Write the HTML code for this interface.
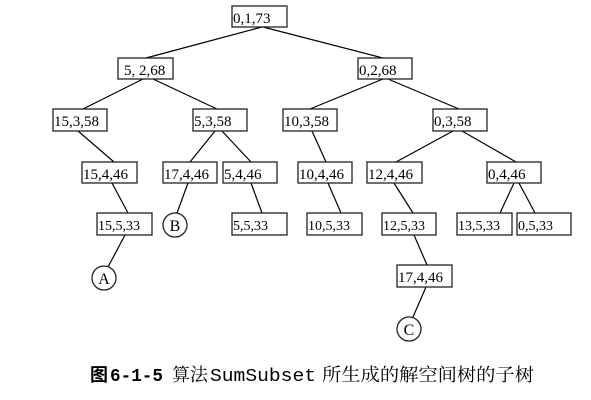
<!DOCTYPE html>
<html><head><meta charset="utf-8"><style>
html,body{margin:0;padding:0;background:#fff;}
svg{display:block;}
text{font-family:"Liberation Serif",serif;fill:#000;}
</style></head><body>
<svg width="591" height="400" viewBox="0 0 591 400" xmlns="http://www.w3.org/2000/svg">
<g stroke="#000" stroke-width="1.2" fill="none">
<line x1="262" y1="27" x2="146" y2="58"/>
<line x1="263" y1="27" x2="383" y2="58"/>
<line x1="143" y1="79" x2="83" y2="109"/>
<line x1="153" y1="79" x2="217" y2="109"/>
<line x1="383" y1="79" x2="310" y2="109"/>
<line x1="388" y1="79" x2="459" y2="109"/>
<line x1="78" y1="131" x2="114" y2="162"/>
<line x1="215" y1="131" x2="190" y2="162"/>
<line x1="222" y1="131" x2="251" y2="162"/>
<line x1="312" y1="131" x2="326" y2="162"/>
<line x1="453" y1="131" x2="396" y2="162"/>
<line x1="462" y1="131" x2="516" y2="162"/>
<line x1="112" y1="183" x2="128" y2="213"/>
<line x1="188" y1="183" x2="177" y2="213"/>
<line x1="251" y1="183" x2="262" y2="213"/>
<line x1="328" y1="183" x2="341" y2="213"/>
<line x1="394" y1="183" x2="413" y2="213"/>
<line x1="514" y1="183" x2="500" y2="213"/>
<line x1="519" y1="183" x2="535" y2="213"/>
<line x1="125" y1="235" x2="108" y2="267"/>
<line x1="414" y1="235" x2="427" y2="265"/>
<line x1="426" y1="287" x2="413" y2="317"/>
</g>
<g stroke="#222" stroke-width="1.3" fill="#fff">
<rect x="232" y="6" width="55" height="21"/>
<rect x="118" y="58" width="55" height="21"/>
<rect x="358" y="58" width="54" height="21"/>
<rect x="53" y="109" width="54" height="22"/>
<rect x="193" y="109" width="54" height="22"/>
<rect x="283" y="109" width="54" height="22"/>
<rect x="433" y="109" width="54" height="22"/>
<rect x="82" y="162" width="55" height="21"/>
<rect x="163" y="162" width="54" height="21"/>
<rect x="223" y="162" width="54" height="21"/>
<rect x="298" y="162" width="54" height="21"/>
<rect x="367" y="162" width="55" height="21"/>
<rect x="487" y="162" width="54" height="21"/>
<rect x="97" y="213" width="55" height="22"/>
<rect x="232" y="213" width="55" height="22"/>
<rect x="307" y="213" width="55" height="22"/>
<rect x="382" y="213" width="54" height="22"/>
<rect x="457" y="213" width="55" height="22"/>
<rect x="517" y="213" width="54" height="22"/>
<rect x="397" y="265" width="55" height="22"/>
<circle cx="175" cy="225" r="12"/>
<circle cx="104" cy="278" r="12"/>
<circle cx="409" cy="329" r="12"/>
</g>
<g font-size="15">
<text x="233" y="23">0,1,73</text>
<text x="124" y="75">5, 2,68</text>
<text x="359" y="75">0,2,68</text>
<text x="54" y="126">15,3,58</text>
<text x="194" y="126">5,3,58</text>
<text x="284" y="126">10,3,58</text>
<text x="434" y="126">0,3,58</text>
<text x="83" y="179">15,4,46</text>
<text x="164" y="179">17,4,46</text>
<text x="224" y="179">5,4,46</text>
<text x="299" y="179">10,4,46</text>
<text x="368" y="179">12,4,46</text>
<text x="488" y="179">0,4,46</text>
<text x="398" y="282">17,4,46</text>
</g>
<g font-size="14">
<text x="98" y="230">15,5,33</text>
<text x="233" y="230">5,5,33</text>
<text x="308" y="230">10,5,33</text>
<text x="383" y="230">12,5,33</text>
<text x="458" y="230">13,5,33</text>
<text x="518" y="230">0,5,33</text>
</g>
<g font-size="16" text-anchor="middle">
<text x="175" y="231">B</text>
<text x="104" y="284">A</text>
<text x="409" y="335">C</text>
</g>
<g font-size="18">
<text x="90" y="381" font-weight="bold" style="font-family:'Noto Sans CJK SC',sans-serif">图</text>
<text x="110" y="381" font-weight="bold" style="font-family:'Liberation Mono',monospace" textLength="53" lengthAdjust="spacingAndGlyphs">6-1-5</text>
<text x="172" y="381" style="font-family:'Noto Serif CJK SC',serif">算法</text>
<text x="210" y="381" style="font-family:'Liberation Mono',monospace" textLength="106" lengthAdjust="spacingAndGlyphs">SumSubset</text>
<text x="322" y="381" style="font-family:'Noto Serif CJK SC',serif" textLength="212" lengthAdjust="spacingAndGlyphs">所生成的解空间树的子树</text>
</g>
</svg>
</body></html>
